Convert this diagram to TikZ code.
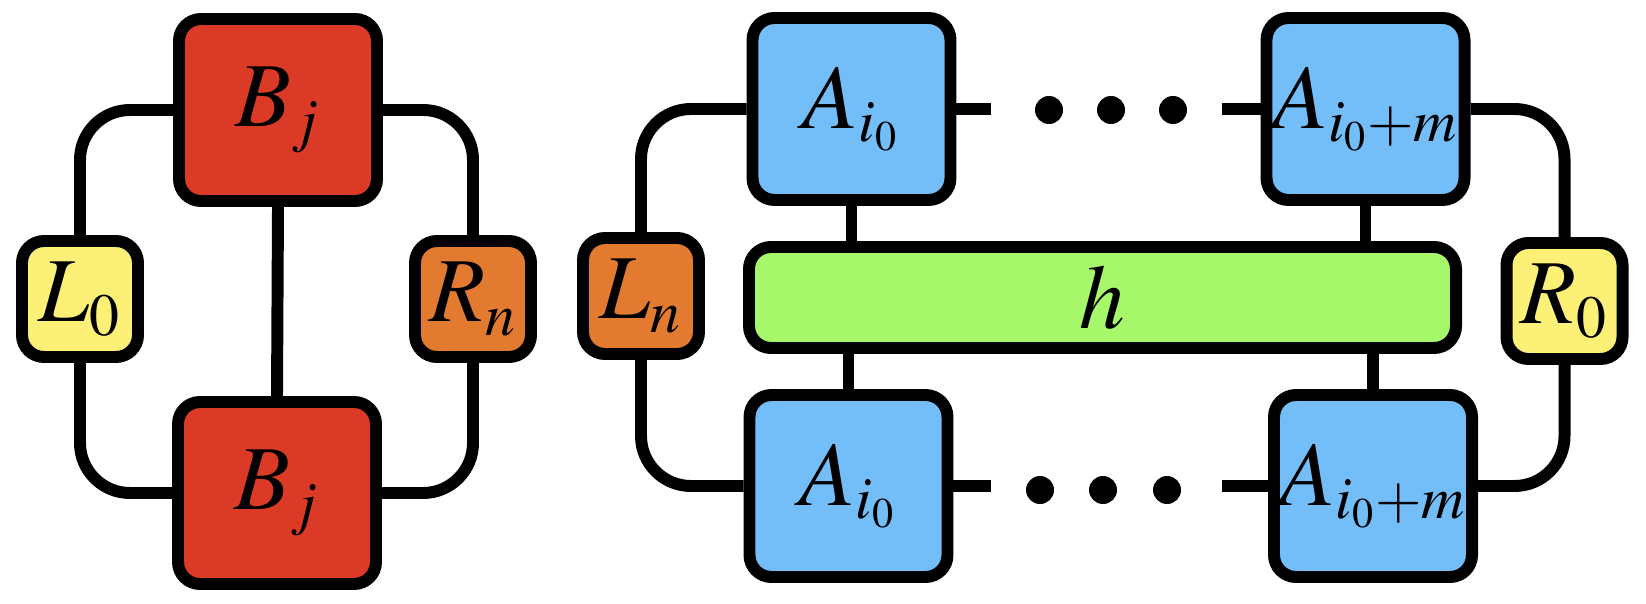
\documentclass[tikz,border=0pt]{standalone}
\usepackage{mathptmx}
\usepackage{tikz}
\DeclareMathSizes{26}{26}{17}{12}

\definecolor{tred}{RGB}{219,58,38}
\definecolor{tyellow}{RGB}{253,240,118}
\definecolor{torange}{RGB}{226,122,48}
\definecolor{tblue}{RGB}{115,190,248}
\definecolor{tgreen}{RGB}{166,247,106}

\begin{document}
\begin{tikzpicture}[
  box/.style={draw, line width=3.4pt, rounded corners=2.2mm, inner sep=0pt, font=\fontsize{26}{30}\selectfont},
  bigbox/.style={box, minimum width=1.98cm, minimum height=1.82cm},
  smallbox/.style={box, minimum width=1.16cm, minimum height=1.16cm},
  wire/.style={line width=3.4pt, rounded corners=5mm},
  dot/.style={circle, fill, inner sep=0pt, minimum size=0.28cm}
]
\useasboundingbox (0,0) rectangle (16.46,-6.04);

% left network
\node[bigbox, fill=tred] (Btop) at (2.78,-1.10) {$B_j$};
\node[bigbox, fill=tred] (Bbot) at (2.77,-4.93) {$B_j$};
\node[smallbox, fill=tyellow] (L0) at (0.80,-2.99) {$L_0$};
\node[smallbox, fill=torange] (Rn) at (4.73,-2.99) {$R_n$};

\draw[wire] (L0.north) |- (Btop.west);
\draw[wire] (L0.south) |- (Bbot.west);
\draw[wire] (Rn.north) |- (Btop.east);
\draw[wire] (Rn.south) |- (Bbot.east);
\draw[wire] (Btop.south) -- (Bbot.north);

% right network
\node[smallbox, fill=torange] (Ln) at (6.41,-2.96) {$L_n$};
\node[bigbox, fill=tblue] (Atop) at (8.515,-1.09) {$A_{i_0}$};
\node[bigbox, fill=tblue] (Abot) at (8.485,-4.86) {$A_{i_0}$};
\node[bigbox, fill=tblue] (Amtop) at (13.655,-1.09) {$A_{i_0+m}$};
\node[bigbox, fill=tblue] (Ambot) at (13.73,-4.86) {$A_{i_0+m}$};
\node[box, fill=tgreen, minimum width=7.07cm, minimum height=1.01cm] (h) at (11.025,-2.975) {$h$};
\node[smallbox, fill=tyellow] (R0) at (15.645,-3.01) {$R_0$};

\node[dot] (dt1) at (10.49,-1.10) {};
\node[dot] (dt2) at (11.11,-1.10) {};
\node[dot] (dt3) at (11.73,-1.10) {};
\node[dot] (db1) at (10.40,-4.90) {};
\node[dot] (db2) at (11.03,-4.90) {};
\node[dot] (db3) at (11.67,-4.90) {};

\coordinate (tl) at (9.91,-1.09);
\coordinate (tr) at (12.22,-1.09);
\coordinate (bl) at (9.91,-4.86);
\coordinate (br) at (12.22,-4.86);

\draw[wire] (Ln.north) |- (Atop.west);
\draw[wire] (Ln.south) |- (Abot.west);
\draw[wire] (R0.north) |- (Amtop.east);
\draw[wire] (R0.south) |- (Ambot.east);
\draw[wire] (Atop.east) -- (tl);
\draw[wire] (tr) -- (Amtop.west);
\draw[wire] (Abot.east) -- (bl);
\draw[wire] (br) -- (Ambot.west);
\draw[wire] (Atop.south) -- (Atop.south |- h.north);
\draw[wire] (Abot.north) -- (Abot.north |- h.south);
\draw[wire] (Amtop.south) -- (Amtop.south |- h.north);
\draw[wire] (Ambot.north) -- (Ambot.north |- h.south);
\end{tikzpicture}
\end{document}
